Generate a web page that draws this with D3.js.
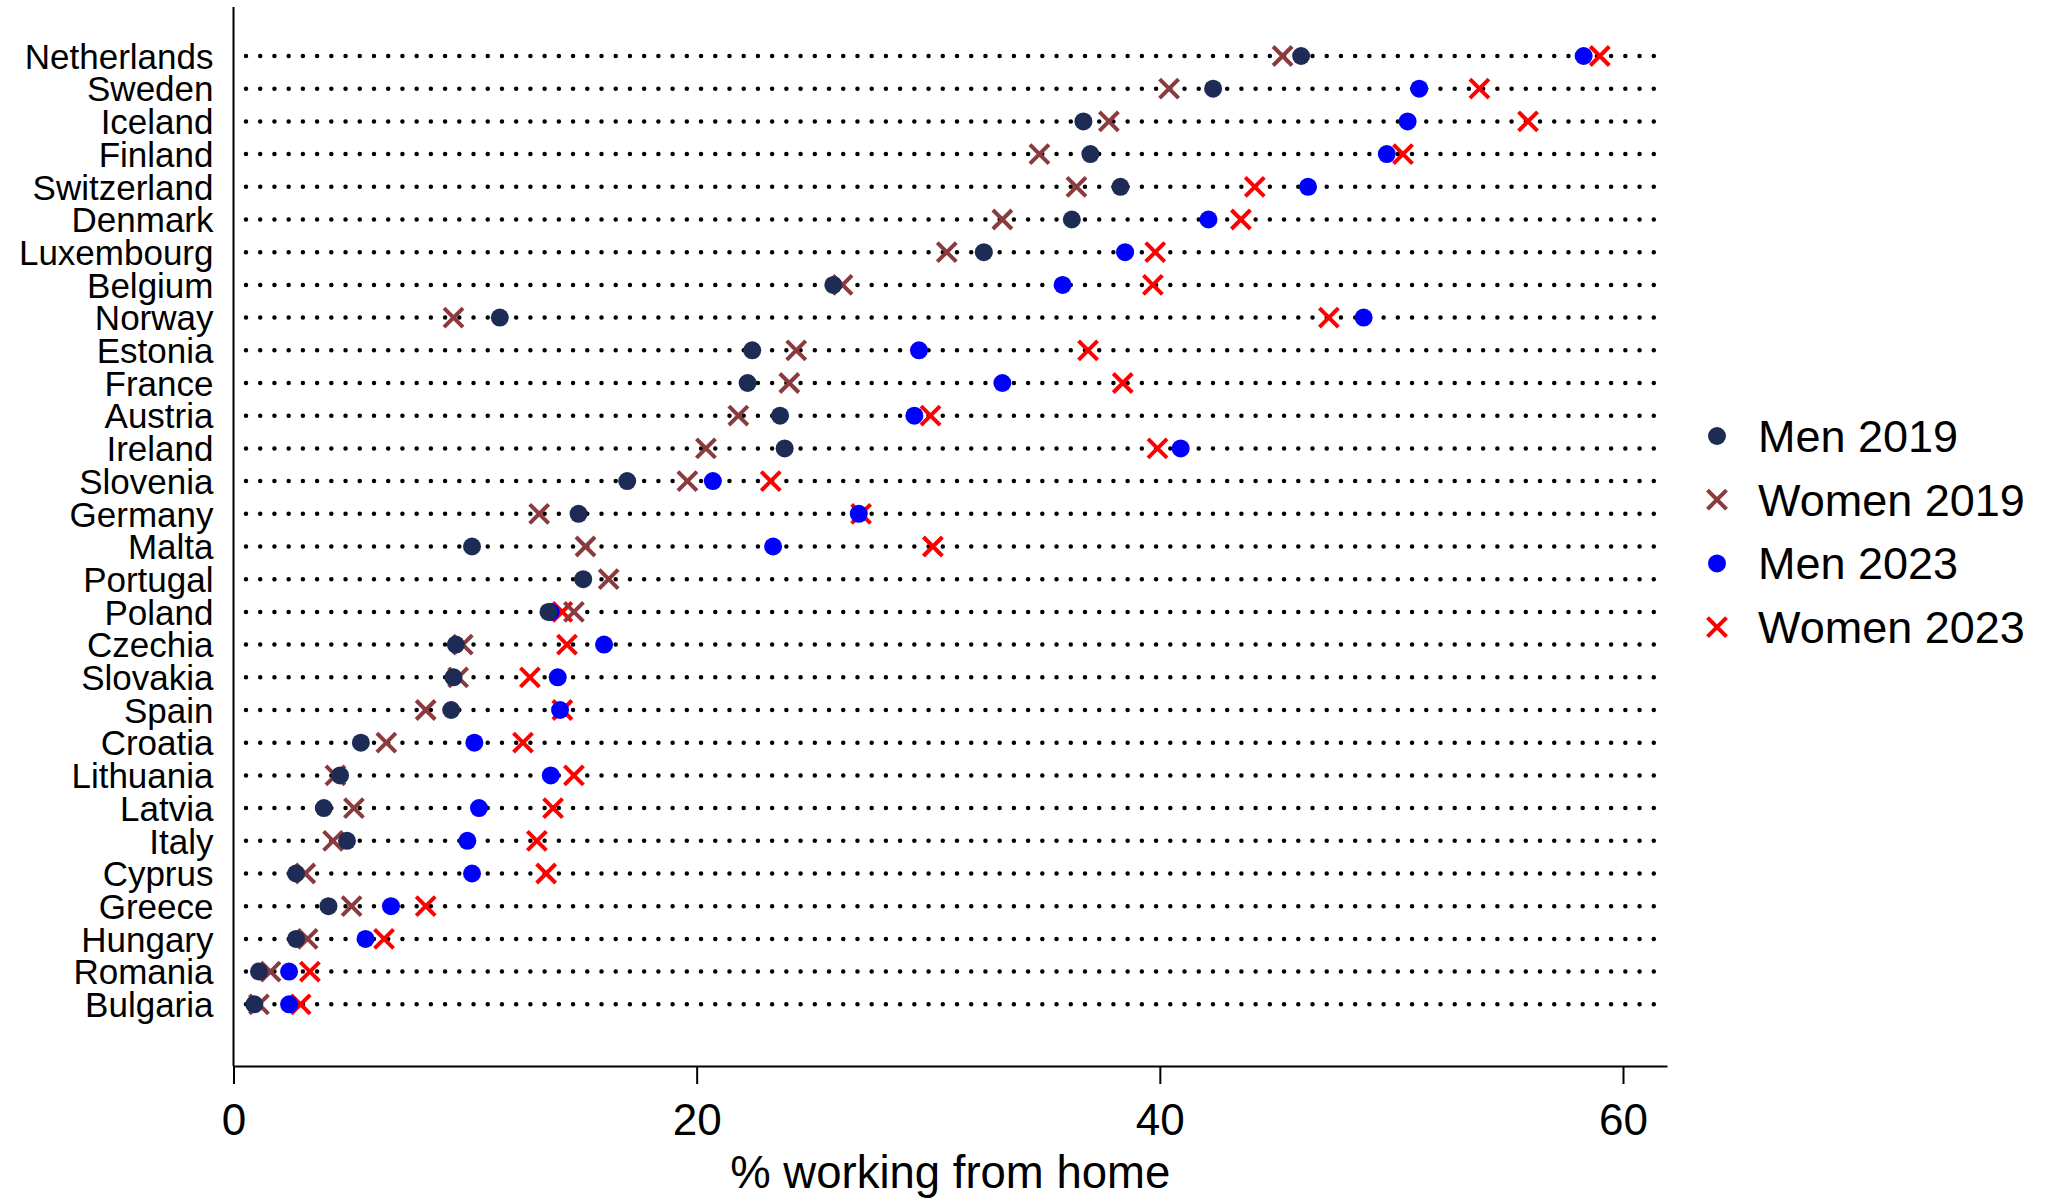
<!DOCTYPE html>
<html>
<head>
<meta charset="utf-8">
<script src="https://cdn.jsdelivr.net/npm/d3@7"></script>
<style>
  body { margin: 0; background: #fff; }
  text { font-family: "Liberation Sans", Arial, sans-serif; fill: #000; }
</style>
</head>
<body>
<div id="chart"></div>
<script>
// countries, top to bottom
const countries = ["Netherlands", "Sweden", "Iceland", "Finland", "Switzerland", "Denmark",
  "Luxembourg", "Belgium", "Norway", "Estonia", "France", "Austria", "Ireland", "Slovenia",
  "Germany", "Malta", "Portugal", "Poland", "Czechia", "Slovakia", "Spain", "Croatia",
  "Lithuania", "Latvia", "Italy", "Cyprus", "Greece", "Hungary", "Romania", "Bulgaria"];

const men2019 = [46.1, 42.3, 36.7, 37.0, 38.3, 36.2, 32.4, 25.9, 11.5, 22.4, 22.2, 23.6, 23.8, 17.0,
  14.9, 10.3, 15.1, 13.6, 9.6, 9.5, 9.4, 5.5, 4.6, 3.9, 4.9, 2.7, 4.1, 2.7, 1.1, 0.9];
const women2019 = [45.3, 40.4, 37.8, 34.8, 36.4, 33.2, 30.8, 26.3, 9.5, 24.3, 24.0, 21.8, 20.4, 19.6,
  13.2, 15.2, 16.2, 14.7, 9.9, 9.7, 8.3, 6.6, 4.4, 5.2, 4.3, 3.1, 5.1, 3.2, 1.6, 1.1];
const men2023 = [58.3, 51.2, 50.7, 49.8, 46.4, 42.1, 38.5, 35.8, 48.8, 29.6, 33.2, 29.4, 40.9, 20.7,
  27.0, 23.3, null, 13.7, 16.0, 14.0, 14.1, 10.4, 13.7, 10.6, 10.1, 10.3, 6.8, 5.7, 2.4, 2.4];
const women2023 = [59.0, 53.8, 55.9, 50.5, 44.1, 43.5, 39.8, 39.7, 47.3, 36.9, 38.4, 30.1, 39.9, 23.2,
  27.1, 30.2, null, 14.2, 14.4, 12.8, 14.2, 12.5, 14.7, 13.8, 13.1, 13.5, 8.3, 6.5, 3.3, 2.9];

const xTicks = [0, 20, 40, 60];
const xTitle = "% working from home";

// series in drawing order (bottom to top)
const series = [
  { name: "Women 2023", values: women2023, shape: "x", color: "#ff0000" },
  { name: "Men 2023", values: men2023, shape: "o", color: "#0000ff" },
  { name: "Women 2019", values: women2019, shape: "x", color: "#8b3a3e" },
  { name: "Men 2019", values: men2019, shape: "o", color: "#1e2c55" }
];
const legendOrder = ["Men 2019", "Women 2019", "Men 2023", "Women 2023"];

const width = 2046, height = 1201;
const left = 233.5, right = 1667, axisY = 1066;

const svg = d3.select("#chart").append("svg")
  .attr("width", width)
  .attr("height", height);

const x = d3.scaleLinear().domain([0, 61.9]).range([left, right]);
const y = d3.scalePoint().domain(countries).range([56, 1004.3]);

// dotted guide lines
svg.append("g")
  .selectAll("line")
  .data(countries)
  .enter().append("line")
  .attr("x1", left + 12.5)
  .attr("x2", right - 12)
  .attr("y1", d => y(d))
  .attr("y2", d => y(d))
  .attr("stroke", "#000")
  .attr("stroke-width", 4.5)
  .attr("stroke-linecap", "round")
  .attr("stroke-dasharray", "0 14.22");

// y axis
svg.append("line")
  .attr("x1", left).attr("x2", left)
  .attr("y1", 7).attr("y2", axisY)
  .attr("stroke", "#000").attr("stroke-width", 2);

const yAxis = svg.append("g")
  .attr("transform", `translate(${left},0)`)
  .call(d3.axisLeft(y).tickSize(0).tickPadding(20));
yAxis.select(".domain").remove();
yAxis.selectAll("text")
  .style("font-size", "35px")
  .style("font-family", '"Liberation Sans", Arial, sans-serif')
  .attr("dy", "0.35em");

// x axis
const xAxis = svg.append("g")
  .attr("transform", `translate(0,${axisY})`)
  .call(d3.axisBottom(x).tickValues(xTicks).tickSize(18).tickSizeOuter(0).tickPadding(20));
xAxis.select(".domain").attr("stroke-width", 2);
xAxis.selectAll(".tick line").attr("stroke-width", 2);
xAxis.selectAll("text")
  .style("font-size", "44px")
  .style("font-family", '"Liberation Sans", Arial, sans-serif');

svg.append("text")
  .attr("x", (left + right) / 2)
  .attr("y", 1188)
  .attr("text-anchor", "middle")
  .style("font-size", "45.5px")
  .text(xTitle);

// markers
const xPath = s => `M${-s},${-s}L${s},${s}M${-s},${s}L${s},${-s}`;

function drawMarker(sel, shape, color) {
  if (shape === "o") {
    sel.append("circle").attr("r", 9).attr("fill", color);
  } else {
    sel.append("path").attr("d", xPath(9.5))
      .attr("stroke", color).attr("stroke-width", 4).attr("fill", "none");
  }
}

series.forEach(s => {
  const pts = countries.map((c, i) => ({ c, v: s.values[i] })).filter(d => d.v != null);
  svg.append("g")
    .selectAll("g")
    .data(pts)
    .enter().append("g")
    .attr("transform", d => `translate(${x(d.v)},${y(d.c)})`)
    .each(function () { drawMarker(d3.select(this), s.shape, s.color); });
});

// legend
const legend = svg.append("g").attr("transform", "translate(1717,436)");
legendOrder.forEach((name, i) => {
  const s = series.find(d => d.name === name);
  const g = legend.append("g").attr("transform", `translate(0,${i * 63.7})`);
  drawMarker(g, s.shape, s.color);
  g.append("text")
    .attr("x", 41)
    .attr("y", 16)
    .style("font-size", "45px")
    .text(name);
});
</script>
</body>
</html>
